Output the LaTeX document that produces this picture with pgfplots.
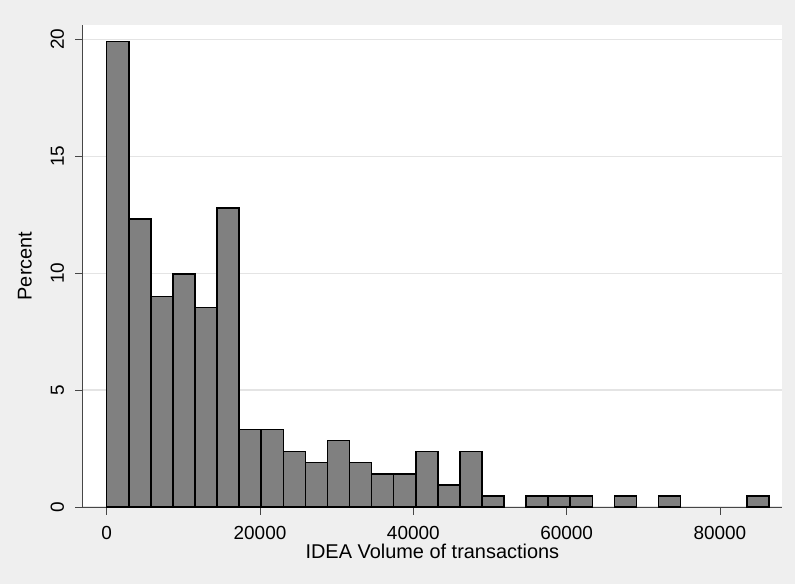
\documentclass[border=0pt]{standalone}
\usepackage{fontspec}
\setmainfont{Liberation Sans}
\usepackage{pgfplots}
\pgfplotsset{compat=1.18}
\definecolor{bgcol}{RGB}{239,239,239}
\definecolor{gridcol}{RGB}{228,228,228}
\definecolor{barfill}{RGB}{128,128,128}
\definecolor{axcol}{RGB}{70,70,70}
\begin{document}
\begin{tikzpicture}
\fill[bgcol, use as bounding box] (0,0) rectangle (795bp,584bp);
\begin{axis}[
  at={(82.7bp,77bp)}, anchor=south west,
  scale only axis, width=699.3bp, height=482bp,
  xmin=-3131, xmax=88102, ymin=0, ymax=20.61,
  axis background/.style={fill=white},
  axis x line*=bottom, axis y line*=left,
  axis line style={draw=axcol, line width=0.8bp},
  every outer x axis line/.append style={-}, every outer y axis line/.append style={-},
  xtick={0,20000,40000,60000,80000},
  ytick={0,5,10,15,20},
  minor tick num=0,
  tick align=outside,
  major tick length=7.5bp,
  tick style={draw=axcol, line width=0.8bp},
  ymajorgrids, grid style={draw=gridcol, line width=1.2bp},
  scaled x ticks=false,
  /pgf/number format/assume math mode=true,
  /pgf/number format/1000 sep={},
  ticklabel style={font=\fontsize{19}{22}\selectfont},
  xticklabel style={anchor=base, inner sep=0pt, yshift=-24.6bp},
  yticklabel style={xshift=-11bp, rotate=90, anchor=south, inner sep=0pt},
  label style={font=\fontsize{20}{24}\selectfont},
  xlabel={IDEA Volume of transactions},
  ylabel={Percent},
  xlabel style={at={(axis description cs:0.5,-0.1064)}, anchor=base, inner sep=0pt},
  ylabel style={at={(axis description cs:-0.0725,0.5)}, anchor=south, inner sep=0pt},
  clip=false,
]
\addplot[ybar interval, fill=barfill, draw=black, line width=1.6bp] coordinates {
(0,19.9052) (2880,12.3223) (5760,9.0047) (8640,9.9526) (11520,8.5308)
(14400,12.7962) (17280,3.3175) (20160,3.3175) (23040,2.3697) (25920,1.8957)
(28800,2.8436) (31680,1.8957) (34560,1.4218) (37440,1.4218) (40320,2.3697)
(43200,0.9479) (46080,2.3697) (48960,0.4739) (51840,0)
};
\addplot[ybar interval, fill=barfill, draw=black, line width=1.6bp] coordinates {
(54720,0.4739) (57600,0.4739) (60480,0.4739) (63360,0)
};
\addplot[ybar interval, fill=barfill, draw=black, line width=1.6bp] coordinates {
(66240,0.4739) (69120,0)
};
\addplot[ybar interval, fill=barfill, draw=black, line width=1.6bp] coordinates {
(72000,0.4739) (74880,0)
};
\addplot[ybar interval, fill=barfill, draw=black, line width=1.6bp] coordinates {
(83520,0.4739) (86400,0)
};
\end{axis}
\end{tikzpicture}
\end{document}
